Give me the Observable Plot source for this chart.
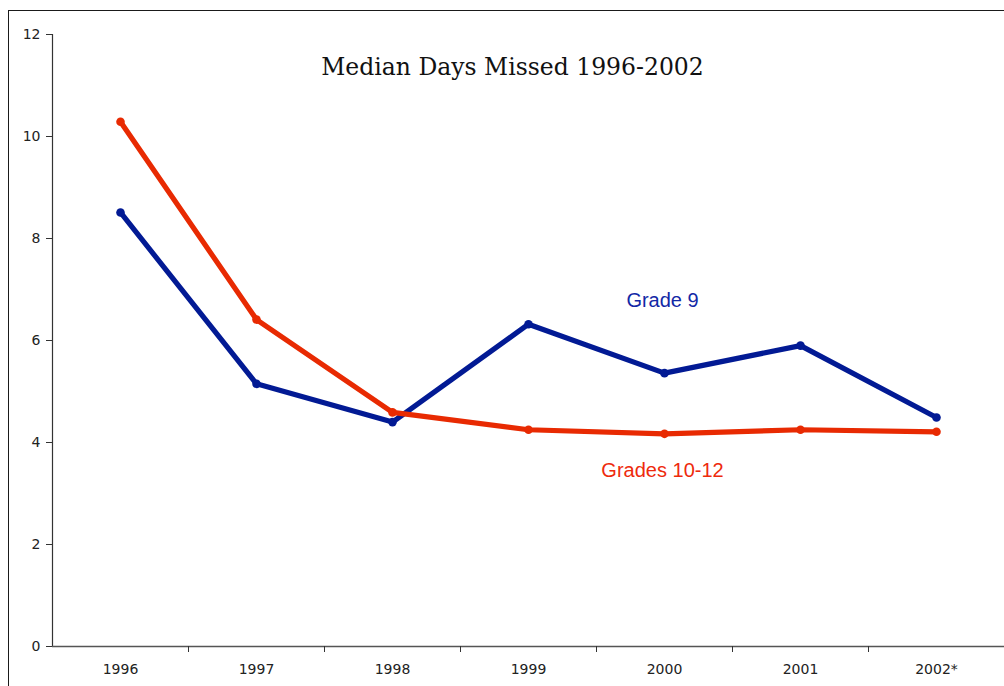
<!DOCTYPE html>
<html>
<head>
<meta charset="utf-8">
<script src="https://cdn.jsdelivr.net/npm/d3@7"></script>
<script src="https://cdn.jsdelivr.net/npm/@observablehq/plot@0.6"></script>
<style>
  html, body { margin: 0; padding: 0; background: #fff; }
  #wrap { position: relative; width: 1004px; height: 686px; overflow: hidden; }
  #border { position: absolute; left: 8px; top: 10px; width: 1100px; height: 800px;
            border-left: 1.5px solid #1a1a1a; border-top: 1.5px solid #1a1a1a; }
  #chart { position: absolute; left: 0; top: 0; }
</style>
</head>
<body>
<div id="wrap">
  <div id="border"></div>
  <div id="chart"></div>
</div>
<script>
// School years on the horizontal axis
const years = ["1996", "1997", "1998", "1999", "2000", "2001", "2002*"];

// Median days missed per year
const grade9 = [8.51, 5.15, 4.40, 6.32, 5.36, 5.90, 4.49];
const grades10to12 = [10.29, 6.41, 4.59, 4.25, 4.17, 4.25, 4.21];

// Y axis ticks
const yTicks = [0, 2, 4, 6, 8, 10, 12];

// Series names and where their labels sit
const seriesNames = ["Grade 9", "Grades 10-12"];
const labelYears = ["2000", "2000"];
const labelValues = [6.78, 3.45];

const colors = {"Grade 9": "#021a94", "Grades 10-12": "#e82a02"};
const textColors = {"Grade 9": "#1228a6", "Grades 10-12": "#ee2a0c"};

const rows = [
  ...years.map((y, i) => ({year: y, value: grade9[i], series: "Grade 9"})),
  ...years.map((y, i) => ({year: y, value: grades10to12[i], series: "Grades 10-12"}))
];
const labels = seriesNames.map((s, i) => ({series: s, year: labelYears[i], value: labelValues[i]}));

const step = (1004 - 52) / years.length;

const plot = Plot.plot({
  width: 1004,
  height: 686,
  marginLeft: 52,
  marginRight: 0,
  marginTop: 34,
  marginBottom: 40,
  style: {fontFamily: "'DejaVu Sans', sans-serif", fontSize: "14px", color: "#222", background: "transparent", overflow: "visible"},
  x: {type: "band", domain: years, padding: 0, label: null},
  y: {domain: [0, 12], label: null},
  marks: [
    // axis lines: value axis on the left edge, baseline at zero
    Plot.ruleX([years[0]], {dx: -step / 2, y1: 0, y2: 12, stroke: "#333", strokeWidth: 1.2}),
    Plot.ruleY([0], {stroke: "#555", strokeWidth: 1.5}),
    Plot.axisY({ticks: yTicks, tickSize: 6, tickPadding: 6, label: null, stroke: "#333", fontSize: 14}),
    // year labels centred in each band, tick marks on the band boundaries
    Plot.axisX({tickSize: 0, tickPadding: 18, label: null, fontSize: 14}),
    Plot.axisX({tickSize: 6, text: null, label: null, dx: step / 2, stroke: "#333"}),
    // series lines with point markers
    Plot.line(rows, {x: "year", y: "value", z: "series", stroke: d => colors[d.series], strokeWidth: 5.2, strokeLinejoin: "round"}),
    Plot.dot(rows, {x: "year", y: "value", fill: d => colors[d.series], r: 4.3}),
    // series labels
    Plot.text(labels, {x: "year", y: "value", text: "series", fill: d => textColors[d.series], fontSize: 20, fontFamily: "'Liberation Sans', Arial, sans-serif", dx: -2}),
    // chart title
    Plot.text(["Median Days Missed 1996-2002"], {frameAnchor: "top", dx: -16, dy: 24, fontSize: 23.5, fontFamily: "'DejaVu Serif', Georgia, serif", fill: "#111"})
  ]
});
document.getElementById("chart").appendChild(plot);
</script>
</body>
</html>
